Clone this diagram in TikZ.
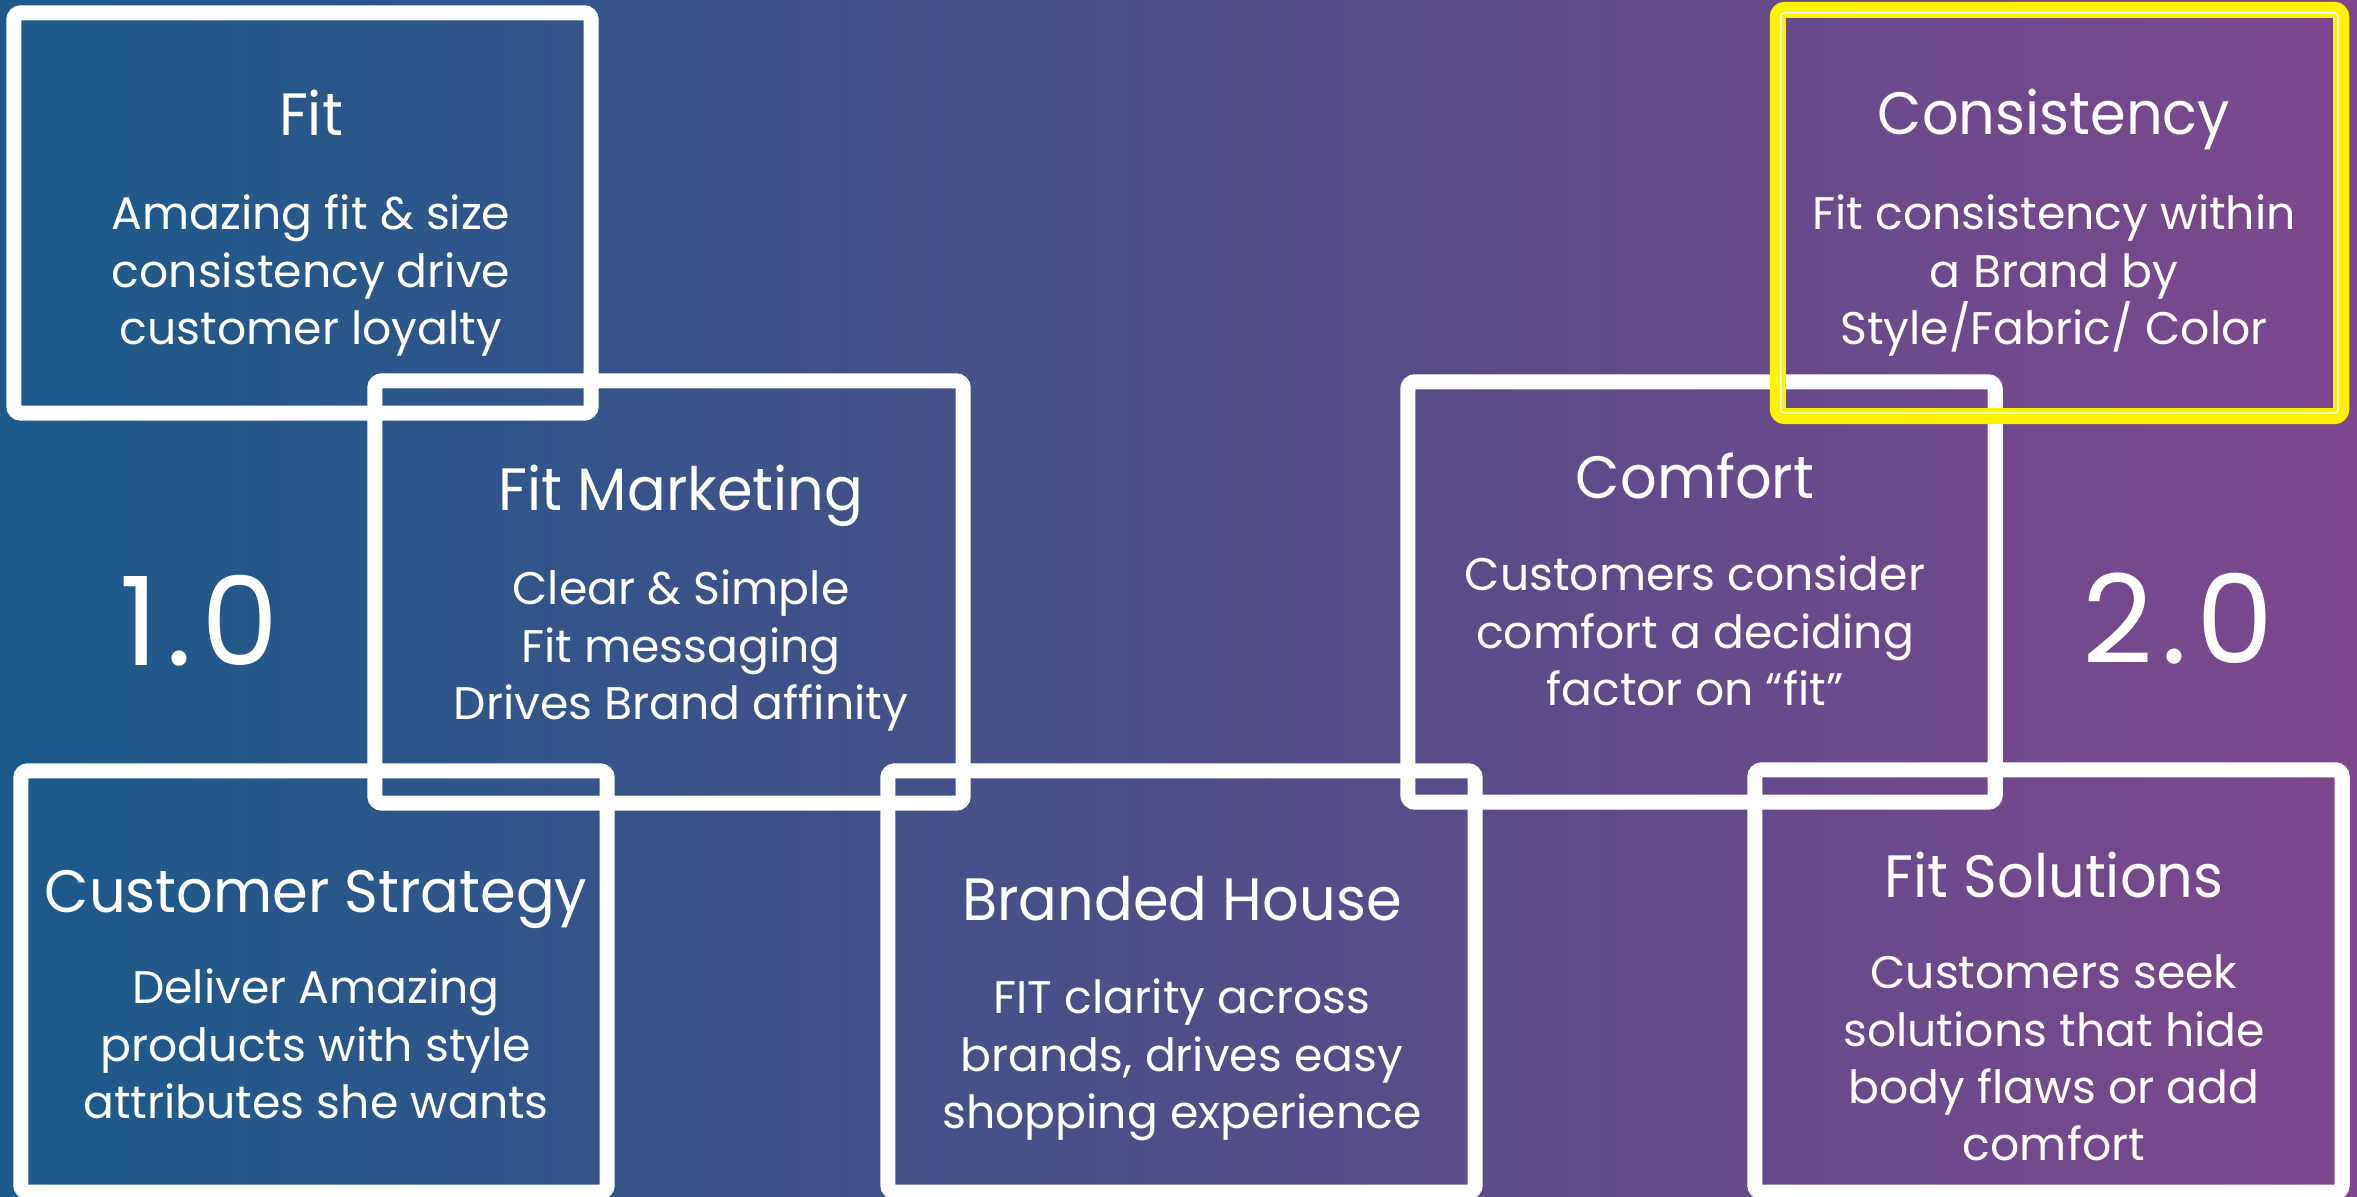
\documentclass[tikz,border=0pt]{standalone}
\usepackage{fontspec}
\setmainfont{Poppins}
\newfontfamily\headfont{Poppins}[FakeStretch=0.96]
\newfontfamily\verfont{Poppins}[LetterSpace=7]
\usetikzlibrary{positioning}
\definecolor{bgleft}{RGB}{27,90,139}
\definecolor{bgmid}{RGB}{79,78,136}
\definecolor{bgright}{RGB}{126,71,141}
\newcommand{\topstrut}{\rule{0pt}{12pt}}
\begin{document}
\begin{tikzpicture}[
    x=0.01cm, y=-0.01cm,
    frame/.style={rectangle, draw=white, line width=4.3pt, rounded corners=2pt, inner sep=0pt},
    pick/.style={frame, draw=yellow, line width=4.6pt},
    head/.style={text=white, font=\headfont\fontsize{17pt}{20pt}\selectfont, anchor=base, inner sep=0pt},
    body/.style={text=white, font=\fontsize{13pt}{16.3pt}\selectfont, align=center, anchor=north, inner sep=0pt, yshift=12pt},
    ver/.style={text=white, font=\verfont\fontsize{35pt}{40pt}\selectfont, anchor=base, inner sep=0pt}
]
    % Background
    \fill[left color=bgleft, right color=bgright, middle color=bgmid] (0,0) rectangle (2357,1197);
    \useasboundingbox (0,0) rectangle (2357,1197);

    % Frames
    \node[frame, minimum width=5.77cm, minimum height=4.00cm] (fit) at (302.5,213) {};
    \node[frame, minimum width=5.88cm, minimum height=4.22cm] (mkt) at (669,592) {};
    \node[frame, minimum width=5.86cm, minimum height=4.21cm] (cust) at (314,981.5) {};
    \node[frame, minimum width=5.87cm, minimum height=4.21cm] (house) at (1181.5,981.5) {};
    \node[frame, minimum width=5.87cm, minimum height=4.20cm] (comf) at (1701.5,592) {};
    \node[frame, minimum width=5.87cm, minimum height=4.22cm] (sol) at (2048.5,981) {};
    \node[pick, minimum width=5.63cm, minimum height=4.06cm] (cons) at (2059.5,213) {};
    \node[frame, draw=white, line width=0.4pt, rounded corners=1pt, minimum width=5.57cm, minimum height=4.00cm] (consin) at (cons) {};

    % Titles
    \node[head] (fitT) at (311,136) {Fit};
    \node[head] (mktT) at (681,510) {Fit Marketing};
    \node[head] (custT) at (316,912) {Customer Strategy};
    \node[head] (houseT) at (1182,920) {Branded House};
    \node[head] (comfT) at (1695,498) {Comfort};
    \node[head] (consT) at (2054,135) {Consistency};
    \node[head] (solT) at (2054,897) {Fit Solutions};

    % Texts
    \node[body] (fitB) at (311,229) {\topstrut Amazing fit \& size\\consistency drive\\customer loyalty};
    \node[body] (mktB) at (681,604) {\topstrut Clear \& Simple\\Fit messaging\\Drives Brand affinity};
    \node[body] (custB) at (316,1003) {\topstrut Deliver Amazing\\products with style\\attributes she wants};
    \node[body] (houseB) at (1182,1013) {\topstrut FIT clarity across\\brands, drives easy\\shopping experience};
    \node[body] (comfB) at (1695,590) {\topstrut Customers consider\\comfort a deciding\\factor on “fit”};
    \node[body] (consB) at (2054,229) {\topstrut Fit consistency within\\a Brand by\\Style/Fabric/ Color};
    \node[body] (solB) at (2054,988) {\topstrut Customers seek\\solutions that hide\\body flaws or add\\comfort};

    % Versions
    \node[ver] (v1) at (199,665) {1.0};
    \node[ver] (v2) at (2178,663) {2.0};
\end{tikzpicture}
\end{document}
